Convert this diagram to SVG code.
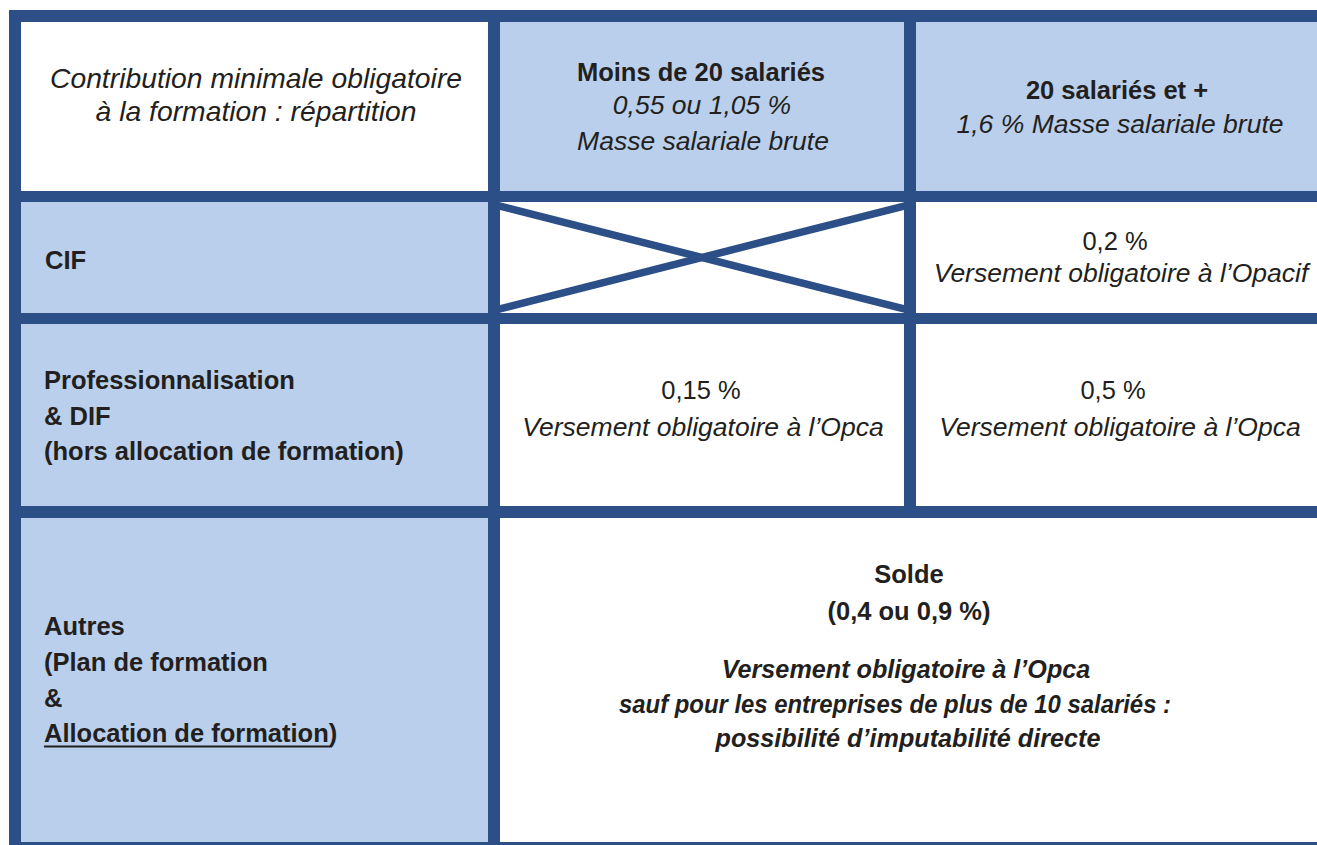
<svg xmlns="http://www.w3.org/2000/svg" width="1317" height="845" viewBox="0 0 1317 845">
<defs>
<style>
.bg{fill:#ffffff}
.lb{fill:#B9CFEB}
.bd{fill:#2B4F86}
text{font-family:"Liberation Sans",Arial,sans-serif;fill:#231F20}
.t{font-size:28.3px;font-style:italic}
.b{font-size:25.5px;font-weight:bold}
.i{font-size:26.5px;font-style:italic}
.r{font-size:25.5px}
.bi{font-size:25.2px;font-weight:bold;font-style:italic}
.m{text-anchor:middle}
</style>
<clipPath id="xc"><rect x="500" y="202" width="404" height="111"/></clipPath>
</defs>
<rect class="bg" x="0" y="0" width="1317" height="845"/>

<g id="cell-header-title">
<rect class="bg" x="21" y="22" width="467" height="169"/>
<text class="t m" x="256" y="88">Contribution minimale obligatoire</text>
<text class="t m" x="256" y="121">à la formation : répartition</text>
</g>
<g id="cell-header-small">
<rect class="lb" x="500" y="22" width="404" height="169"/>
<text class="b m" x="701" y="81">Moins de 20 salariés</text>
<text class="i m" x="702" y="114">0,55 ou 1,05 %</text>
<text class="i m" x="703" y="150">Masse salariale brute</text>
</g>
<g id="cell-header-large">
<rect class="lb" x="916" y="22" width="401" height="169"/>
<text class="b m" x="1117" y="99">20 salariés et +</text>
<text class="i m" x="1120" y="133">1,6 % Masse salariale brute</text>
</g>

<g id="cell-cif">
<rect class="lb" x="21" y="202" width="467" height="111"/>
<text class="b" x="45" y="269">CIF</text>
</g>
<g id="cell-cif-small">
<rect class="bg" x="500" y="202" width="404" height="111"/>
<g clip-path="url(#xc)">
<line x1="496" y1="205" x2="908" y2="310" stroke="#2B4F86" stroke-width="7.5"/>
<line x1="496" y1="310" x2="908" y2="205" stroke="#2B4F86" stroke-width="7.5"/>
</g>
</g>
<g id="cell-cif-large">
<text class="r m" x="1115" y="250">0,2 %</text>
<text class="i m" x="1121" y="282">Versement obligatoire à l’Opacif</text>
</g>

<g id="cell-pro">
<rect class="lb" x="21" y="324" width="467" height="182"/>
<text class="b" x="44" y="389">Professionnalisation</text>
<text class="b" x="44" y="425">&amp; DIF</text>
<text class="b" x="44" y="460">(hors allocation de formation)</text>
</g>
<g id="cell-pro-small">
<text class="r m" x="701" y="399">0,15 %</text>
<text class="i m" x="703" y="436">Versement obligatoire à l’Opca</text>
</g>
<g id="cell-pro-large">
<text class="r m" x="1113" y="399">0,5 %</text>
<text class="i m" x="1120" y="436">Versement obligatoire à l’Opca</text>
</g>

<g id="cell-autres">
<rect class="lb" x="21" y="518" width="467" height="325"/>
<text class="b" x="44" y="635">Autres</text>
<text class="b" x="44" y="671">(Plan de formation</text>
<text class="b" x="44" y="707">&amp;</text>
<text class="b" x="44" y="742">Allocation de formation)</text>
<rect x="44" y="745.5" width="288" height="2" fill="#231F20"/>
</g>
<g id="cell-solde">
<text class="b m" x="909" y="583">Solde</text>
<text class="b m" x="909" y="620">(0,4 ou 0,9 %)</text>
<text class="bi m" x="906" y="678">Versement obligatoire à l’Opca</text>
<text class="bi m" x="895" y="713" textLength="552" lengthAdjust="spacingAndGlyphs">sauf pour les entreprises de plus de 10 salariés :</text>
<text class="bi m" x="908" y="747">possibilité d’imputabilité directe</text>
</g>

<g id="borders">
<rect class="bd" x="9" y="10" width="1308" height="12"/>
<rect class="bd" x="9" y="10" width="12" height="835"/>
<rect class="bd" x="488" y="10" width="12" height="835"/>
<rect class="bd" x="904" y="10" width="12" height="508"/>
<rect class="bd" x="9" y="191" width="1308" height="11"/>
<rect class="bd" x="9" y="313" width="1308" height="11"/>
<rect class="bd" x="9" y="506" width="1308" height="12"/>
<rect class="bd" x="9" y="842" width="1308" height="3"/>
</g>
</svg>
